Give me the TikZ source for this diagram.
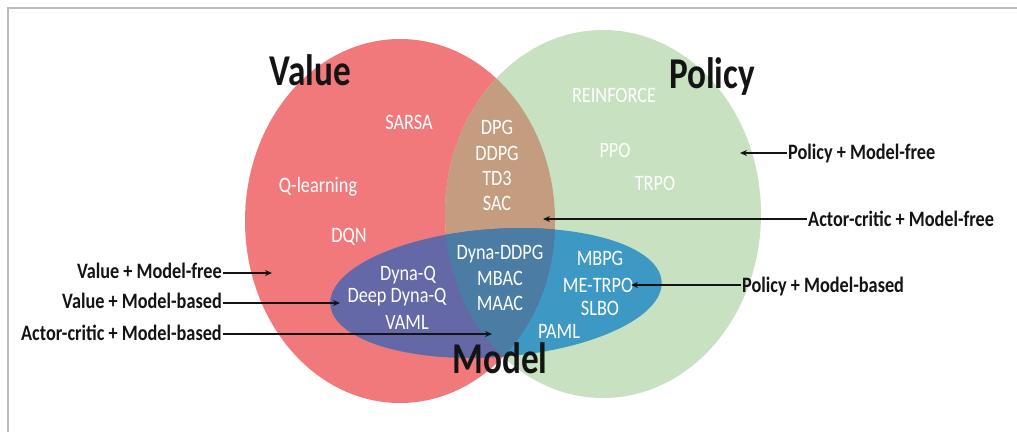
\documentclass[tikz,border=0pt]{standalone}
\usepackage{fontspec}
\setmainfont{Carlito}
\usetikzlibrary{arrows.meta}
\definecolor{redc}{HTML}{F1797C}
\definecolor{greenc}{HTML}{C8E1C0}
\definecolor{brownc}{HTML}{C49C80}
\definecolor{bluec}{HTML}{3E98C4}
\definecolor{purplec}{HTML}{6468A6}
\definecolor{triplec}{HTML}{4A7CA4}
\definecolor{framec}{HTML}{BBBBBB}
\definecolor{inkc}{HTML}{141414}
\newcommand{\hsq}[1]{\scalebox{0.83}[1]{#1}}
\newcommand{\hst}[1]{\scalebox{0.8}[1]{#1}}
\begin{document}
\begin{tikzpicture}[x=1pt,y=-1pt,
  wlab/.style={text=white,font=\fontsize{22}{25}\selectfont,inner sep=0pt,anchor=base},
  blab/.style={text=inkc,font=\bfseries\fontsize{22}{25}\selectfont,inner ysep=0pt,inner xsep=1pt,anchor=base},
  titlelab/.style={text=inkc,font=\bfseries\fontsize{44}{50}\selectfont,inner sep=0pt,anchor=base},
  arr/.style={draw=inkc,line width=1.6pt,-{Stealth[length=7pt,width=6pt]}}]
\useasboundingbox (0,0) rectangle (1017,432);
\fill[white] (0,0) rectangle (1017,432);
\draw[framec,line width=2pt] (8,432) -- (8,8) -- (1017,8);

% Venn regions
\fill[redc] (400,221) ellipse [x radius=155pt, y radius=182pt];
\fill[greenc] (603,214) ellipse [x radius=158pt, y radius=184pt];
\begin{scope}
  \clip (400,221) ellipse [x radius=155pt, y radius=182pt];
  \fill[brownc] (603,214) ellipse [x radius=158pt, y radius=184pt];
\end{scope}
\fill[bluec, rotate around={4:(496,293)}] (496,293) ellipse [x radius=166pt, y radius=64pt];
\begin{scope}
  \clip[rotate around={4:(496,293)}] (496,293) ellipse [x radius=166pt, y radius=64pt];
  \fill[purplec] (400,221) ellipse [x radius=155pt, y radius=182pt];
  \clip (400,221) ellipse [x radius=155pt, y radius=182pt];
  \fill[triplec] (603,214) ellipse [x radius=158pt, y radius=184pt];
\end{scope}

% titles
\node[titlelab] (tvalue) at (310,85) {\hst{Value}};
\node[titlelab] (tpolicy) at (712,88) {\hst{Policy}};
\node[titlelab] (tmodel) at (500,373) {\hst{Model}};

% white labels
\node[wlab] (sarsa) at (409,129) {\hsq{SARSA}};
\node[wlab] (qlearn) at (318,192) {\hsq{Q-learning}};
\node[wlab] (dqn) at (349,242) {\hsq{DQN}};
\node[wlab] (dpg) at (497,134) {\hsq{DPG}};
\node[wlab] (ddpg) at (497,160) {\hsq{DDPG}};
\node[wlab] (td3) at (497,185) {\hsq{TD3}};
\node[wlab] (sac) at (497,210) {\hsq{SAC}};
\node[wlab] (reinf) at (614,102) {\hsq{REINFORCE}};
\node[wlab] (ppo) at (615,157) {\hsq{PPO}};
\node[wlab] (trpo) at (655,190) {\hsq{TRPO}};
\node[wlab] (dynaddpg) at (500,259) {\hsq{Dyna-DDPG}};
\node[wlab] (mbac) at (500,285) {\hsq{MBAC}};
\node[wlab] (maac) at (500,310) {\hsq{MAAC}};
\node[wlab] (dynaq) at (408,280) {\hsq{Dyna-Q}};
\node[wlab] (deepdynaq) at (397,302) {\hsq{Deep Dyna-Q}};
\node[wlab] (vaml) at (407,329) {\hsq{VAML}};
\node[wlab] (mbpg) at (600,265) {\hsq{MBPG}};
\node[wlab] (metrpo) at (598,292) {\hsq{ME-TRPO}};
\node[wlab] (slbo) at (600,315) {\hsq{SLBO}};
\node[wlab] (paml) at (559,338) {\hsq{PAML}};

% side labels
\node[blab,anchor=base east] (vmf) at (223,278) {\hsq{Value + Model-free}};
\node[blab,anchor=base east] (vmb) at (223,308) {\hsq{Value + Model-based}};
\node[blab,anchor=base east] (amb) at (223,340) {\hsq{Actor-critic + Model-based}};
\node[blab,anchor=base west] (pmf) at (787,159) {\hsq{Policy + Model-free}};
\node[blab,anchor=base west] (amf) at (807,226) {\hsq{Actor-critic + Model-free}};
\node[blab,anchor=base west] (pmb) at (741,292) {\hsq{Policy + Model-based}};

% arrow targets
\coordinate (cvmf) at (272,273);
\coordinate (cvmb) at (340,303);
\coordinate (camb) at (492,334);
\coordinate (cpmf) at (740,153);
\coordinate (camf) at (543,219);
\coordinate (cpmb) at (631,285);

\draw[arr] (vmf.east |- cvmf) -- (cvmf);
\draw[arr] (vmb.east |- cvmb) -- (cvmb);
\draw[arr] (amb.east |- camb) -- (camb);
\draw[arr] (pmf.west |- cpmf) -- (cpmf);
\draw[arr] (amf.west |- camf) -- (camf);
\draw[arr] (pmb.west |- cpmb) -- (cpmb);
\end{tikzpicture}
\end{document}
